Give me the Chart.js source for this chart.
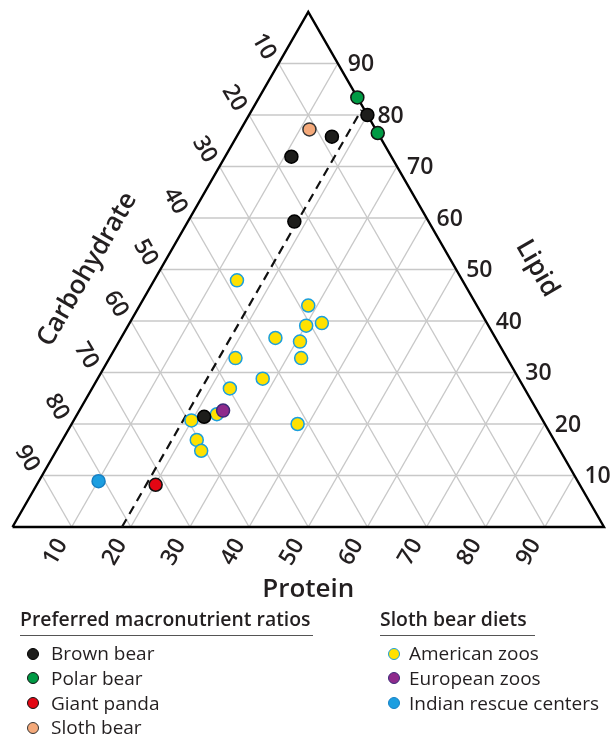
<!DOCTYPE html>
<html>
<head>
<meta charset="utf-8">
<script src="https://cdn.jsdelivr.net/npm/chart.js@4.4.0/dist/chart.umd.min.js"></script>
<style>
  html, body { margin: 0; padding: 0; background: #ffffff; }
  #wrap { position: relative; width: 612px; height: 739px; overflow: hidden; }
  #chart { position: absolute; left: 0; top: 0; }
  .lg { position: absolute; font-family: "Open Sans", sans-serif; color: #231f20; }
  .hd { font-weight: 600; font-size: 19.4px; line-height: 24px; white-space: nowrap; }
  .ul { position: absolute; height: 1.3px; background: #555; }
  .it { font-size: 19px; line-height: 22px; white-space: nowrap; }
  .dot { position: absolute; width: 10px; height: 10px; border-radius: 50%; border: 1.5px solid #222; }
</style>
</head>
<body>
<div id="wrap">
  <canvas id="chart" width="612" height="739"></canvas>
</div>
<script>
// ---------- DATA ([protein, lipid, carbohydrate] in %) ----------
const proteinTicks = [10, 20, 30, 40, 50, 60, 70, 80, 90];
const lipidTicks = [10, 20, 30, 40, 50, 60, 70, 80, 90];
const carbohydrateTicks = [10, 20, 30, 40, 50, 60, 70, 80, 90];

const brownBear = [[20.0, 80.0, 0.0], [16.1, 75.8, 8.1], [11.2, 71.9, 16.9], [18.0, 59.3, 22.7], [21.7, 21.4, 56.9]];
const polarBear = [[16.6, 83.4, 0.0], [23.5, 76.5, 0.0]];
const giantPanda = [[20.1, 8.2, 71.7]];
const slothBear = [[11.6, 77.2, 11.2]];

const americanZoos = [
  [14.0, 47.9, 38.1], [28.5, 43.0, 28.5], [30.1, 39.1, 30.8], [32.5, 39.6, 27.9],
  [26.1, 36.7, 37.2], [30.6, 36.0, 33.4], [32.4, 32.8, 34.8], [21.3, 32.8, 45.9],
  [27.9, 28.8, 43.3], [23.3, 26.9, 49.8], [23.6, 21.9, 54.5], [19.9, 20.7, 59.4],
  [38.2, 20.0, 41.8], [22.7, 16.9, 60.4], [24.5, 14.8, 60.7]
];
const europeanZoos = [[24.3, 22.6, 53.1]];
const indianRescueCenters = [[10.1, 8.9, 81.0]];

const dashedLine = [[18.5, 0.0, 81.5], [18.5, 81.0, 0.5]];

const axisTitles = { protein: "Protein", lipid: "Lipid", carbohydrate: "Carbohydrate" };

const legendLeftTitle = "Preferred macronutrient ratios";
const legendRightTitle = "Sloth bear diets";

// ---------- ternary -> cartesian ----------
const S3 = Math.sqrt(3) / 2;
function toXY(t) {
  const sum = t[0] + t[1] + t[2];
  const p = t[0] * 100 / sum, l = t[1] * 100 / sum;
  return { x: p + l / 2, y: l * S3 };
}

// ---------- grid lines built from tick values ----------
const gridSets = [];
lipidTicks.forEach(k => gridSets.push([[0, k, 100 - k], [100 - k, k, 0]]));
proteinTicks.forEach(k => gridSets.push([[k, 0, 100 - k], [k, 100 - k, 0]]));
carbohydrateTicks.forEach(k => gridSets.push([[100 - k, 0, k], [0, 100 - k, k]]));
const outline = [[0, 0, 100], [100, 0, 0], [0, 100, 0], [0, 0, 100]];

const datasets = [];
gridSets.forEach(seg => datasets.push({
  data: seg.map(toXY), showLine: true, borderColor: '#c8c8c8', borderWidth: 1.4,
  pointRadius: 0, order: 6, clip: false
}));
datasets.push({ data: outline.map(toXY), showLine: true, borderColor: '#000', borderWidth: 2.4,
  pointRadius: 0, order: 5, clip: false, borderJoinStyle: 'miter' });
datasets.push({ data: dashedLine.map(toXY), showLine: true, borderColor: '#111', borderWidth: 2.2,
  borderDash: [9, 6], pointRadius: 0, order: 4, clip: false });

function pts(arr, fill, stroke, order) {
  return { data: arr.map(toXY), showLine: false, pointRadius: 6.5, pointBackgroundColor: fill,
    pointBorderColor: stroke, pointBorderWidth: 1.5, order: order, clip: false };
}
datasets.push(pts(americanZoos, '#ffe100', '#1b9fdc', 3));
datasets.push(pts(brownBear, '#1d1d1b', '#000', 1));
datasets.push(pts(polarBear, '#009a44', '#111', 1));
datasets.push(pts(giantPanda, '#e30613', '#111', 1));
datasets.push(pts(slothBear, '#f4a97a', '#333', 1));
datasets.push(pts(europeanZoos, '#8e2a8c', '#3c2a78', 0));
datasets.push(pts(indianRescueCenters, '#1c9ee0', '#1680c4', 0));

// ---------- labels plugin ----------
const FONT = '"Open Sans", sans-serif';
const labelPlugin = {
  id: 'ternaryLabels',
  afterDraw(chart) {
    const ctx = chart.ctx, xs = chart.scales.x, ys = chart.scales.y;
    const px = t => { const c = toXY(t); return [xs.getPixelForValue(c.x), ys.getPixelForValue(c.y)]; };
    ctx.save();
    ctx.fillStyle = '#231f20';
    ctx.font = '600 23px ' + FONT;
    ctx.textAlign = 'center'; ctx.textBaseline = 'middle';
    // protein ticks (bottom)
    proteinTicks.forEach(k => {
      const [x, y] = px([k, 0, 100 - k]);
      ctx.save(); ctx.translate(x - 16, y + 25); ctx.rotate(-Math.PI / 3);
      ctx.fillText(String(k), 0, 0); ctx.restore();
    });
    // carbohydrate ticks (left)
    carbohydrateTicks.forEach(k => {
      const [x, y] = px([0, 100 - k, k]);
      ctx.save(); ctx.translate(x - 15, y - 17); ctx.rotate(Math.PI / 3);
      ctx.fillText(String(k), 0, 0); ctx.restore();
    });
    // lipid ticks (right)
    ctx.textAlign = 'left';
    lipidTicks.forEach(k => {
      const [x, y] = px([100 - k, k, 0]);
      ctx.fillText(String(k), x + 10, y + 1);
    });
    // titles
    ctx.font = '600 26px ' + FONT;
    ctx.textAlign = 'center';
    const b0 = px([0, 0, 100]), b1 = px([100, 0, 0]);
    ctx.fillText(axisTitles.protein, (b0[0] + b1[0]) / 2, b0[1] + 63);
    const cl = px([0, 50, 50]);
    ctx.save(); ctx.translate(cl[0] - 73, cl[1]); ctx.rotate(-Math.PI / 3);
    ctx.fillText(axisTitles.carbohydrate, 0, 0); ctx.restore();
    const cr = px([50, 50, 0]);
    ctx.save(); ctx.translate(cr[0] + 81, cr[1] - 1); ctx.rotate(Math.PI / 3);
    ctx.fillText(axisTitles.lipid, 0, 0); ctx.restore();
    ctx.restore();
  }
};

new Chart(document.getElementById('chart'), {
  type: 'scatter',
  data: { datasets },
  options: {
    responsive: false, animation: false, devicePixelRatio: 1,
    layout: { padding: { left: 12.5, right: 4.5, top: 12, bottom: 212 } },
    scales: {
      x: { type: 'linear', min: 0, max: 100, display: false },
      y: { type: 'linear', min: 0, max: 100 * S3, display: false }
    },
    plugins: { legend: { display: false }, tooltip: { enabled: false } }
  },
  plugins: [labelPlugin]
});

// ---------- HTML legend ----------
const wrap = document.getElementById('wrap');
function addEl(cls, text, css) {
  const d = document.createElement('div'); d.className = cls;
  if (text) d.textContent = text;
  Object.assign(d.style, css); wrap.appendChild(d); return d;
}
const leftItems = [['Brown bear', '#1d1d1b', '#000'], ['Polar bear', '#009a44', '#111'],
                   ['Giant panda', '#e30613', '#111'], ['Sloth bear', '#f4a97a', '#333']];
const rightItems = [['American zoos', '#ffe100', '#1b9fdc'], ['European zoos', '#8e2a8c', '#3c2a78'],
                    ['Indian rescue centers', '#1c9ee0', '#1680c4']];
addEl('lg hd', legendLeftTitle, { left: '20px', top: '607px' });
addEl('ul', '', { left: '20px', top: '635px', width: '293px' });
addEl('lg hd', legendRightTitle, { left: '380px', top: '607px' });
addEl('ul', '', { left: '380px', top: '635px', width: '155px' });
leftItems.forEach((it, i) => {
  const cy = 654 + i * 24.8;
  addEl('dot', '', { left: (33 - 6.5) + 'px', top: (cy - 6.5) + 'px', background: it[1], borderColor: it[2] });
  addEl('lg it', it[0], { left: '51px', top: (cy - 12) + 'px' });
});
rightItems.forEach((it, i) => {
  const cy = 654 + i * 24.8;
  addEl('dot', '', { left: (394 - 6.5) + 'px', top: (cy - 6.5) + 'px', background: it[1], borderColor: it[2] });
  addEl('lg it', it[0], { left: '409px', top: (cy - 12) + 'px' });
});
</script>
</body>
</html>
